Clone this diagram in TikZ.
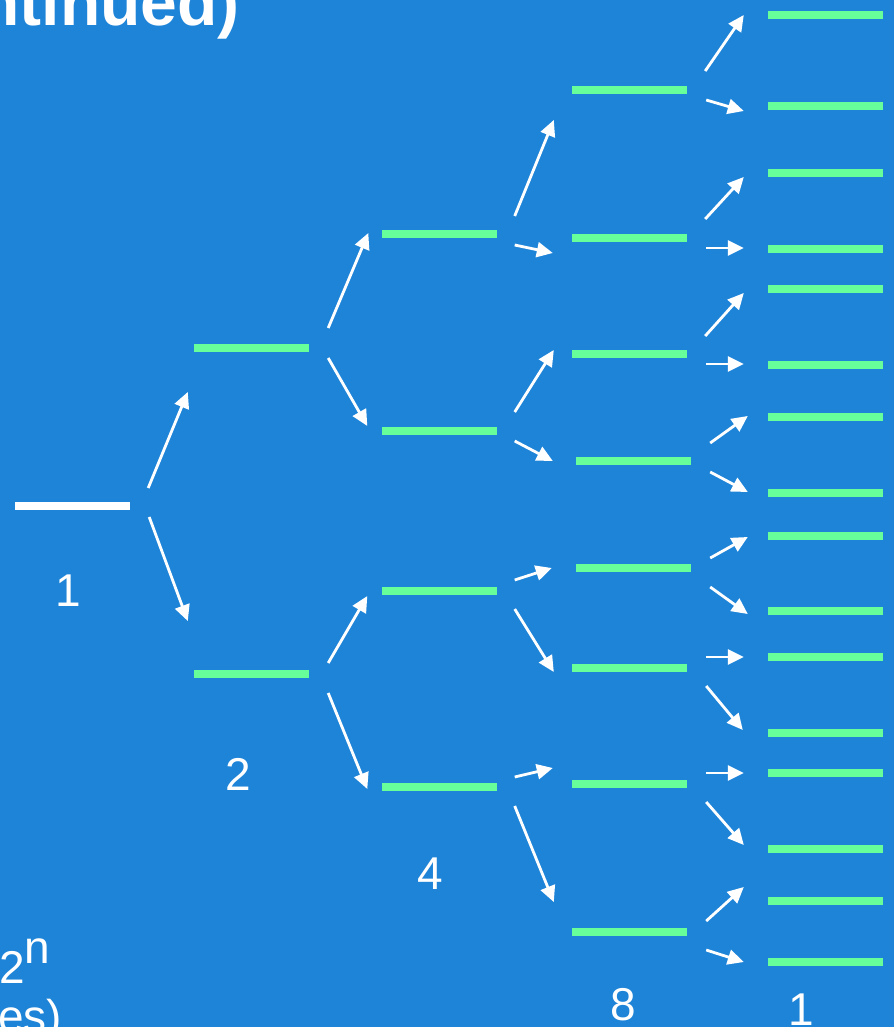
\documentclass[tikz,border=0pt]{standalone}
\usepackage{fontspec}
\setmainfont{Liberation Sans}
\usetikzlibrary{calc,arrows.meta}
\definecolor{bgblue}{RGB}{30,132,216}
\definecolor{lvlgreen}{RGB}{102,255,153}
\newcommand\arw[4]{\draw[arr] ($(#1.east)+(#2)$) -- ($(#3.west)+(#4)$);}
\begin{document}
\begin{tikzpicture}[x=1pt,y=-1pt,
  lvl/.style={fill=lvlgreen,draw=none,inner sep=0pt,minimum width=115pt,minimum height=7.5pt},
  ground/.style={lvl,fill=white,minimum height=8.5pt},
  arr/.style={draw=white,line width=2.8pt,-{Triangle[length=16pt,width=15pt]}},
  lbl/.style={text=white,inner sep=0pt,font=\fontsize{46}{55}\selectfont}]
\useasboundingbox (0,0) rectangle (894,1027);
\fill[bgblue] (0,0) rectangle (894,1027);
% title fragment
\node[text=white,inner sep=0pt,anchor=base east,font=\fontsize{66}{72}\selectfont\bfseries] (title) at (240,26) {ntinued)};
% level 0
\node[ground] (c0) at (72.5,506) {};
% level 1
\node[lvl] (c1a) at (251.5,348) {};
\node[lvl] (c1b) at (251.5,674) {};
% level 2
\node[lvl] (c2a) at (439,234) {};
\node[lvl] (c2b) at (439,431) {};
\node[lvl] (c2c) at (439,591) {};
\node[lvl] (c2d) at (439,787) {};
% level 3
\node[lvl] (c3a) at (629.5,90) {};
\node[lvl] (c3b) at (629.5,238) {};
\node[lvl] (c3c) at (629.5,354) {};
\node[lvl] (c3d) at (633.5,461) {};
\node[lvl] (c3e) at (633.5,568) {};
\node[lvl] (c3f) at (629.5,668) {};
\node[lvl] (c3g) at (629.5,784) {};
\node[lvl] (c3h) at (629.5,932) {};
% level 4
\foreach \n/\y in {1/15,2/106,3/173,4/249,5/289,6/365,7/417,8/493,9/536,10/611,11/657,12/733,13/773,14/849,15/901,16/962}
  \node[lvl] (d\n) at (825.5,\y) {};
% arrows level 0 -> 1
\arw{c0}{18,-18}{c1a}{-6,44}
\arw{c0}{19,11}{c1b}{-6,-53}
% level 1 -> 2
\arw{c1a}{19,-20}{c2a}{-13,-1}
\arw{c1a}{19,10}{c2b}{-14,-5}
\arw{c1b}{19,-11}{c2c}{-14,5}
\arw{c1b}{19,19}{c2d}{-14,2}
% level 2 -> 3
\arw{c2a}{18,-18}{c3a}{-18,30}
\arw{c2a}{18,11}{c3b}{-19,15}
\arw{c2b}{18,-19}{c3c}{-18,-4}
\arw{c2b}{18,10}{c3d}{-23,0}
\arw{c2c}{18,-11}{c3e}{-24,0}
\arw{c2c}{18,18}{c3f}{-18,4}
\arw{c2d}{18,-10}{c3g}{-19,-16}
\arw{c2d}{18,19}{c3h}{-18,-30}
% level 3 -> 4
\arw{c3a}{18,-19}{d1}{-24,0}
\arw{c3a}{19,10}{d2}{-24,5}
\arw{c3b}{18,-19}{d3}{-24,4}
\arw{c3b}{19,10}{d4}{-24,-1}
\arw{c3c}{18,-18}{d5}{-24,4}
\arw{c3c}{19,10}{d6}{-24,-1}
\arw{c3d}{19,-18}{d7}{-20,-1}
\arw{c3d}{19,11}{d8}{-20,-1}
\arw{c3e}{19,-10}{d9}{-20,1}
\arw{c3e}{19,19}{d10}{-20,3}
\arw{c3f}{19,-11}{d11}{-24,0}
\arw{c3f}{19,18}{d12}{-25,-3}
\arw{c3g}{19,-11}{d13}{-24,0}
\arw{c3g}{19,18}{d14}{-24,-4}
\arw{c3h}{19,-11}{d15}{-24,-14}
\arw{c3h}{19,18}{d16}{-24,0}
% labels
\node[lbl,anchor=base] (n1) at (68,606) {1};
\node[lbl,anchor=base] (n2) at (238,790) {2};
\node[lbl,anchor=base] (n4) at (430,889) {4};
\node[lbl,anchor=base] (n8) at (623,1020) {8};
\node[lbl,anchor=base] (n16) at (801,1025) {1};
\node[lbl,anchor=base west] (pow) at (-1,983) {2\raisebox{20pt}{n}};
\node[lbl,anchor=base west] (tail) at (-2,1032) {es)};
\end{tikzpicture}
\end{document}
